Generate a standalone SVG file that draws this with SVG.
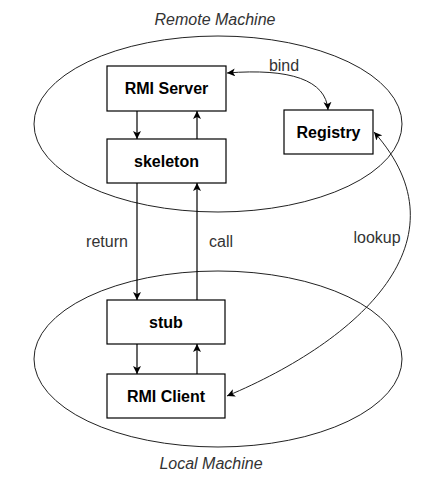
<svg xmlns="http://www.w3.org/2000/svg" width="432" height="478" viewBox="0 0 432 478">
<defs>
<marker id="ah" viewBox="0 0 10 10" refX="10" refY="5" markerWidth="8" markerHeight="8" markerUnits="userSpaceOnUse" orient="auto-start-reverse">
<path d="M0,0 L10,5 L0,10 L2.5,5 Z" fill="#000"/>
</marker>
</defs>
<style>
.bg{fill:#fff}
.ell{fill:none;stroke:#222;stroke-width:1}
.box{fill:#fff;stroke:#000;stroke-width:1.2}
.nt{font-family:"Liberation Sans",Arial,sans-serif;font-size:16px;font-weight:bold;fill:#000;text-anchor:middle}
.lb{font-family:"Liberation Sans",Arial,sans-serif;font-size:16px;fill:#333;text-anchor:middle}
.tt{font-family:"Liberation Sans",Arial,sans-serif;font-size:16px;font-style:italic;fill:#333;text-anchor:middle}
.ln{fill:none;stroke:#000;stroke-width:1.2}
.cv{fill:none;stroke:#222;stroke-width:1}
</style>
<rect class="bg" x="0" y="0" width="432" height="478"/>
<g id="remote-machine">
<ellipse class="ell" cx="218" cy="124" rx="184" ry="88"/>
<text class="tt" x="215" y="25">Remote Machine</text>
</g>
<g id="local-machine">
<ellipse class="ell" cx="218" cy="359" rx="184" ry="88"/>
<text class="tt" x="211" y="469">Local Machine</text>
</g>
<g id="connectors">
<line class="ln" x1="137" y1="111" x2="137" y2="139" marker-end="url(#ah)"/>
<line class="ln" x1="197" y1="139" x2="197" y2="111" marker-end="url(#ah)"/>
<line class="ln" x1="137" y1="183" x2="137" y2="300" marker-end="url(#ah)"/>
<line class="ln" x1="197" y1="300" x2="197" y2="183" marker-end="url(#ah)"/>
<line class="ln" x1="137" y1="344" x2="137" y2="374" marker-end="url(#ah)"/>
<line class="ln" x1="197" y1="374" x2="197" y2="344" marker-end="url(#ah)"/>
<path class="cv" d="M227,73 C290,68 326,80 328,110" marker-start="url(#ah)" marker-end="url(#ah)"/>
<path class="cv" d="M227,396 C360,340 470,240 374,132" marker-start="url(#ah)" marker-end="url(#ah)"/>
<text class="lb" x="284" y="71">bind</text>
<text class="lb" x="107" y="247">return</text>
<text class="lb" x="221" y="247">call</text>
<text class="lb" x="377" y="243">lookup</text>
</g>
<g id="rmi-server">
<rect class="box" x="107" y="66" width="119" height="45"/>
<text class="nt" x="166.5" y="94">RMI Server</text>
</g>
<g id="registry">
<rect class="box" x="284" y="110" width="89" height="44"/>
<text class="nt" x="328.5" y="138">Registry</text>
</g>
<g id="skeleton">
<rect class="box" x="107" y="139" width="119" height="44"/>
<text class="nt" x="166.5" y="167">skeleton</text>
</g>
<g id="stub">
<rect class="box" x="107" y="300" width="118" height="44"/>
<text class="nt" x="166" y="328">stub</text>
</g>
<g id="rmi-client">
<rect class="box" x="107" y="374" width="118" height="44"/>
<text class="nt" x="166" y="402">RMI Client</text>
</g>
</svg>
